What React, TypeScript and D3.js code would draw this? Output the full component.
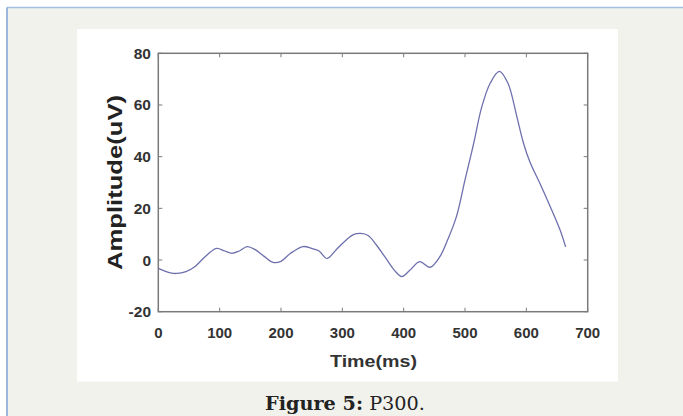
import React from "react";
import * as d3 from "d3";

const timeMs = [0, 10, 20, 30, 45, 60, 75, 95, 108, 120, 132, 145, 158, 172, 187, 200, 215, 236, 250, 262, 275, 290, 305, 318, 330, 342, 355, 370, 385, 397, 410, 426, 443, 459, 472, 486, 500, 514, 527, 541, 556, 570, 584, 595, 606, 622, 639, 655, 664];
const amplitude = [-3.2, -4.2, -5, -5.2, -4.5, -2.5, 1, 4.5, 3.5, 2.6, 3.5, 5.2, 4, 1.5, -0.9, -0.5, 2.5, 5.2, 4.5, 3.5, 0.6, 4, 7.5, 9.8, 10.3, 9.5, 6, 1, -4, -6.4, -4, -0.6, -2.8, 1.3, 8, 16.8, 31, 45, 59, 68.4, 73, 68.4, 56, 45.5, 37.8, 29.7, 20.6, 11.6, 5.1];
const xTicks = [0, 100, 200, 300, 400, 500, 600, 700];
const yTicks = [-20, 0, 20, 40, 60, 80];

export default function App() {
  const W = 683, H = 416;
  const x = d3.scaleLinear().domain([0, 700]).range([158.3, 587.7]);
  const y = d3.scaleLinear().domain([-20, 80]).range([311.7, 53.3]);
  const line = d3.line<number>().x((_, i) => x(timeMs[i])).y((d) => y(d)).curve(d3.curveCatmullRom.alpha(0.5));
  const x0 = x(0), x1 = x(700), y0 = y(-20), y1 = y(80);
  const tickLen = 4;
  const frame = "#7a7a7a";
  const font = "'Liberation Sans', Arial, sans-serif";
  return (
    <svg width={W} height={H} style={{ position: "absolute", left: 0, top: 0 }}>
      <rect x={0} y={0} width={W} height={H} fill="#ffffff" />
      <rect x={7} y={7.5} width={W} height={H} fill="#f2f2ed" />
      <line x1={7} y1={7.5} x2={W} y2={7.5} stroke="#a3bfe6" strokeWidth={1.5} />
      <line x1={7} y1={7.5} x2={7} y2={H} stroke="#7ea2d9" strokeWidth={1.5} />
      <rect x={77} y={29} width={541} height={352.7} fill="#ffffff" />
      {xTicks.map((t) => (
        <g key={"xt" + t}>
          <line x1={x(t)} x2={x(t)} y1={y0} y2={y0 - tickLen} stroke={frame} strokeWidth={1} />
          <line x1={x(t)} x2={x(t)} y1={y1} y2={y1 + tickLen} stroke={frame} strokeWidth={1} />
          <text x={x(t)} y={338} textAnchor="middle" fontFamily={font} fontWeight="bold" fontSize={15} fill="#333">{t}</text>
        </g>
      ))}
      {yTicks.map((t) => (
        <g key={"yt" + t}>
          <line x1={x0} x2={x0 + tickLen} y1={y(t)} y2={y(t)} stroke={frame} strokeWidth={1} />
          <line x1={x1} x2={x1 - tickLen} y1={y(t)} y2={y(t)} stroke={frame} strokeWidth={1} />
          <text x={151} y={y(t) + 5.5} textAnchor="end" fontFamily={font} fontWeight="bold" fontSize={15.5} fill="#333">{t}</text>
        </g>
      ))}
      <rect x={x0} y={y1} width={x1 - x0} height={y0 - y1} fill="none" stroke={frame} strokeWidth={1.5} />
      <path d={line(amplitude) || ""} fill="none" stroke="#6e70ae" strokeWidth={1.3} />
      <text transform={`translate(122,${(95 + 270) / 2}) rotate(-90)`} textAnchor="middle" fontFamily={font} fontWeight="bold" fontSize={20} fill="#222" textLength={175} lengthAdjust="spacingAndGlyphs">Amplitude(uV)</text>
      <text x={373.5} y={367} textAnchor="middle" fontFamily={font} fontWeight="bold" fontSize={17} fill="#333" textLength={87} lengthAdjust="spacingAndGlyphs">Time(ms)</text>
      <text x={345} y={410} textAnchor="middle" fontFamily="'DejaVu Serif', serif" fontSize={18} fill="#222" textLength={160} lengthAdjust="spacingAndGlyphs">
        <tspan fontWeight="bold">Figure 5:</tspan> P300.
      </text>
    </svg>
  );
}
